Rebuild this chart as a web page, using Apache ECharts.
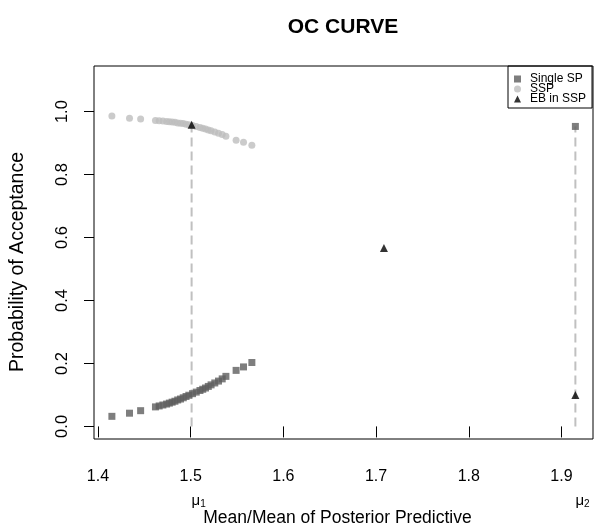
<!DOCTYPE html>
<html>
<head>
<meta charset="utf-8">
<script src="https://cdn.jsdelivr.net/npm/echarts@6/dist/echarts.min.js"></script>
<style>
  html, body { margin: 0; padding: 0; background: #fff; }
  #chart { width: 595px; height: 526px; }
</style>
</head>
<body>
<div id="chart"></div>
<script>
// sample means (x) shared by both OC curves
const meanX = [1.415, 1.434, 1.446, 1.462, 1.466, 1.470, 1.474, 1.477, 1.480, 1.483,
  1.486, 1.489, 1.492, 1.495, 1.498, 1.502, 1.506, 1.510, 1.513, 1.516,
  1.519, 1.522, 1.526, 1.530, 1.534, 1.538, 1.549, 1.557, 1.566]
const ssp = [0.986, 0.979, 0.977, 0.972, 0.971, 0.970, 0.969, 0.968, 0.967, 0.966,
  0.964, 0.963, 0.962, 0.960, 0.958, 0.956, 0.953, 0.950, 0.947, 0.945,
  0.942, 0.939, 0.935, 0.931, 0.927, 0.922, 0.909, 0.903, 0.893]
const singleSP = [0.032, 0.042, 0.050, 0.062, 0.065, 0.068, 0.071, 0.074, 0.077, 0.080,
  0.084, 0.087, 0.091, 0.095, 0.099, 0.104, 0.109, 0.114, 0.118, 0.122,
  0.127, 0.132, 0.138, 0.144, 0.151, 0.159, 0.178, 0.189, 0.203]
const mu = [1.501, 1.915]
const singleAtMu2 = [[1.915, 0.953]]
const ebPoints = [[1.501, 0.958], [1.7085, 0.567], [1.915, 0.100]]
const muDrop = [0.958, 0.953]
const xTicks = [1.4, 1.5, 1.6, 1.7, 1.8, 1.9]
const yTicks = [0, 0.2, 0.4, 0.6, 0.8, 1.0]

const font = '"Liberation Sans", Arial, sans-serif'
const chart = echarts.init(document.getElementById('chart'))

chart.setOption({
  animation: false,
  title: {
    text: 'OC CURVE',
    left: 338, top: 12, textAlign: 'center',
    textStyle: { fontFamily: font, fontSize: 21, fontWeight: 'bold', color: '#000' },
  },
  legend: {
    orient: 'vertical',
    left: 508, top: 66,
    data: [
      { name: 'Single SP', icon: 'rect' },
      { name: 'SSP', icon: 'circle' },
      { name: 'EB in SSP', icon: 'triangle' },
    ],
    itemWidth: 7, itemHeight: 7, itemGap: -2,
    padding: [7, 6, 3, 6],
    borderColor: '#000', borderWidth: 1,
    textStyle: { fontFamily: font, fontSize: 12, lineHeight: 12, color: '#000', padding: [0, 0, 0, 4] },
  },
  grid: {
    left: 94, top: 66, width: 499, height: 373,
    show: true, borderColor: '#000', borderWidth: 1,
  },
  graphic: [
    {
      type: 'text', x: 337.5, y: 518,
      style: { text: 'Mean/Mean of Posterior Predictive', font: '17.5px ' + font, fill: '#000', align: 'center', verticalAlign: 'middle' },
    },
    {
      type: 'text', x: 18, y: 262, rotation: Math.PI / 2,
      style: { text: 'Probability of Acceptance', font: '19.5px ' + font, fill: '#000', align: 'center', verticalAlign: 'middle' },
    },
  ],
  xAxis: [{
    type: 'value', min: 1.3957, max: 1.934,
    axisLine: { show: false },
    axisTick: { show: true, length: 11, customValues: xTicks, lineStyle: { color: '#000' } },
    axisLabel: { color: '#000', fontFamily: font, fontSize: 16, margin: 30, customValues: xTicks, formatter: v => v.toFixed(1) },
    splitLine: { show: false },
  }, {
    type: 'value', min: 1.3957, max: 1.934, position: 'bottom',
    axisLine: { show: false }, axisTick: { show: false }, splitLine: { show: false },
    axisLabel: {
      customValues: mu, margin: 53, align: 'left',
      formatter: (v) => '{m|μ}{s|' + (mu.indexOf(v) + 1) + '}',
      rich: {
        m: { fontFamily: font, fontSize: 15, color: '#000' },
        s: { fontFamily: font, fontSize: 10, color: '#000', verticalAlign: 'bottom', padding: [7, 0, 0, 0] },
      },
    },
  }],
  yAxis: {
    type: 'value', min: -0.04, max: 1.145,
    axisLine: { show: false },
    axisTick: { show: true, length: 10, customValues: yTicks, lineStyle: { color: '#000' } },
    axisLabel: { color: '#000', fontFamily: font, fontSize: 16.5, rotate: 90, margin: 23, customValues: yTicks, formatter: v => v.toFixed(1) },
    splitLine: { show: false },
  },
  series: [
    ...mu.map((m, i) => ({
      type: 'line', silent: true, symbol: 'none', z: 1,
      data: [[m, 0], [m, muDrop[i]]],
      lineStyle: { color: '#c0c0c0', width: 2, type: [9, 5] },
    })),
    {
      name: 'SSP', type: 'scatter', symbol: 'circle', symbolSize: 7, z: 2,
      itemStyle: { color: '#bebebe' },
      data: meanX.map((x, i) => [x, ssp[i]]),
    },
    {
      name: 'Single SP', type: 'scatter', symbol: 'rect', symbolSize: 7, z: 3,
      itemStyle: { color: '#5e5e5e' },
      data: meanX.map((x, i) => [x, singleSP[i]]).concat(singleAtMu2),
    },
    {
      name: 'EB in SSP', type: 'scatter', symbol: 'triangle', symbolSize: 8, z: 4,
      itemStyle: { color: '#000' },
      data: ebPoints,
    },
  ],
})
</script>
</body>
</html>
